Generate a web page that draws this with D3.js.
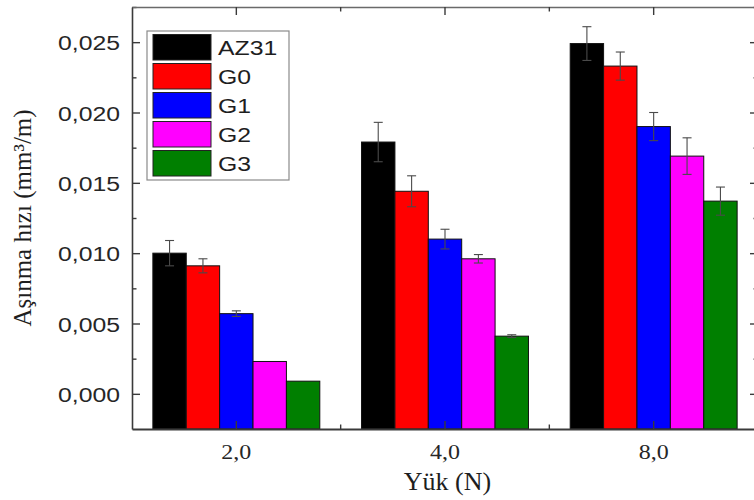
<!DOCTYPE html>
<html>
<head>
<meta charset="utf-8">
<script src="https://cdn.jsdelivr.net/npm/d3@7"></script>
<style>
  html, body { margin: 0; padding: 0; background: #fff; }
  svg { display: block; }
</style>
</head>
<body>
<script>
// Wear rate per load for each alloy
const categories = ["2,0", "4,0", "8,0"];
const series = ["AZ31", "G0", "G1", "G2", "G3"];
const colors = ["#000000", "#ff0000", "#0000ff", "#ff00ff", "#007f00"];

const valuesAZ31 = [0.0100, 0.0179, 0.0249];
const valuesG0   = [0.0091, 0.0144, 0.0233];
const valuesG1   = [0.0057, 0.0110, 0.0190];
const valuesG2   = [0.0023, 0.0096, 0.0169];
const valuesG3   = [0.0009, 0.0041, 0.0137];

const errorsAZ31 = [0.0009, 0.0014, 0.0012];
const errorsG0   = [0.0005, 0.0011, 0.0010];
const errorsG1   = [0.0002, 0.0007, 0.0010];
const errorsG2   = [0.0000, 0.0003, 0.0013];
const errorsG3   = [0.0000, 0.0001, 0.0010];

const yTicks = [0, 0.005, 0.010, 0.015, 0.020, 0.025];
const yTickLabels = ["0,000", "0,005", "0,010", "0,015", "0,020", "0,025"];
const yMinorTicks = [0.0025, 0.0075, 0.0125, 0.0175, 0.0225, 0.0275];

const xTitle = "Yük (N)";
const yTitle = "Aşınma hızı (mm³/m)";

const allValues = [valuesAZ31, valuesG0, valuesG1, valuesG2, valuesG3];
const allErrors = [errorsAZ31, errorsG0, errorsG1, errorsG2, errorsG3];

const rows = [];
series.forEach((s, si) => {
  categories.forEach((c, ci) => {
    rows.push({ series: s, cat: c, value: allValues[si][ci], err: allErrors[si][ci], color: colors[si] });
  });
});

const W = 754, H = 500;
const plot = { left: 132, right: 758, top: 7, bottom: 429 };
const sansFont = "'Liberation Sans', Arial, sans-serif";
const serifFont = "'Liberation Serif', 'Times New Roman', serif";
const sansStretch = 1.18;
const axisColor = "#3a3a3a";

const svg = d3.select("body").append("svg").attr("width", W).attr("height", H);

const x0 = d3.scaleBand().domain(categories).range([plot.left, plot.right])
  .paddingInner(0.2).paddingOuter(0.1);
const x1 = d3.scaleBand().domain(series).range([0, x0.bandwidth()]);
const y = d3.scaleLinear().domain([-0.0025, 0.0275]).range([plot.bottom, plot.top]);

// Bars rise from the bottom frame of the plot
const bars = svg.append("g");
bars.selectAll("rect").data(rows).join("rect")
  .attr("x", d => x0(d.cat) + x1(d.series))
  .attr("width", x1.bandwidth())
  .attr("y", d => y(d.value))
  .attr("height", d => plot.bottom - y(d.value))
  .attr("fill", d => d.color)
  .attr("stroke", "#111")
  .attr("stroke-width", 1);

// Error bars (± with caps)
const eb = svg.append("g").attr("stroke", "#4a4a4a").attr("stroke-width", 1.1).attr("fill", "none");
const ebRows = rows.filter(d => d.err > 0);
const capHalf = 4.5;
const cx = d => x0(d.cat) + x1(d.series) + x1.bandwidth() / 2;
eb.selectAll("line.v").data(ebRows).join("line").attr("class", "v")
  .attr("x1", cx).attr("x2", cx)
  .attr("y1", d => y(d.value - d.err)).attr("y2", d => y(d.value + d.err));
eb.selectAll("line.ct").data(ebRows).join("line").attr("class", "ct")
  .attr("x1", d => cx(d) - capHalf).attr("x2", d => cx(d) + capHalf)
  .attr("y1", d => y(d.value + d.err)).attr("y2", d => y(d.value + d.err));
eb.selectAll("line.cb").data(ebRows).join("line").attr("class", "cb")
  .attr("x1", d => cx(d) - capHalf).attr("x2", d => cx(d) + capHalf)
  .attr("y1", d => y(d.value - d.err)).attr("y2", d => y(d.value - d.err));

function styleAxis(g) {
  g.select(".domain").attr("stroke", axisColor).attr("stroke-width", 1.6);
  g.selectAll(".tick line").attr("stroke", axisColor).attr("stroke-width", 1.4);
}

// Left axis, ticks pointing inward
const yAxis = svg.append("g").attr("transform", `translate(${plot.left},0)`)
  .call(d3.axisLeft(y).tickValues(yTicks).tickSizeInner(-8).tickSizeOuter(0)
    .tickFormat((d, i) => yTickLabels[i]));
styleAxis(yAxis);
yAxis.selectAll(".tick text")
  .attr("x", null).attr("dy", "0.36em")
  .attr("transform", `translate(-12,0) scale(${sansStretch},1)`)
  .attr("font-family", sansFont).attr("font-size", 21).attr("fill", "#262626");

svg.append("g").attr("transform", `translate(${plot.left},0)`)
  .call(d3.axisLeft(y).tickValues(yMinorTicks).tickSizeInner(-4.5).tickSizeOuter(0).tickFormat(""))
  .call(g => { g.select(".domain").remove(); styleAxis(g); });

// Right frame
const rAxis = svg.append("g").attr("transform", `translate(${plot.right},0)`)
  .call(d3.axisRight(y).tickValues(yTicks).tickSizeInner(-8).tickSizeOuter(0).tickFormat(""));
styleAxis(rAxis);
svg.append("g").attr("transform", `translate(${plot.right},0)`)
  .call(d3.axisRight(y).tickValues(yMinorTicks).tickSizeInner(-4.5).tickSizeOuter(0).tickFormat(""))
  .call(g => { g.select(".domain").remove(); styleAxis(g); });

// Bottom axis with category labels
const xAxis = svg.append("g").attr("transform", `translate(0,${plot.bottom})`)
  .call(d3.axisBottom(x0).tickSizeInner(-8).tickSizeOuter(0));
styleAxis(xAxis);
xAxis.select(".domain").attr("stroke-width", 2);
xAxis.selectAll(".tick text")
  .attr("y", null).attr("dy", null)
  .attr("transform", "translate(0,30) scale(1.09,1)")
  .attr("font-family", serifFont).attr("font-size", 22).attr("fill", "#262626");

// Top frame
const tAxis = svg.append("g").attr("transform", `translate(0,${plot.top})`)
  .call(d3.axisTop(x0).tickSizeInner(-8).tickSizeOuter(0).tickFormat(""));
styleAxis(tAxis);
tAxis.select(".domain").attr("stroke", "#6a6a6a");

// Minor ticks between load groups
const mids = categories.slice(1).map((c, i) => (x0(categories[i]) + x0(c)) / 2 + x0.bandwidth() / 2);
const minorG = svg.append("g").attr("stroke", axisColor).attr("stroke-width", 1.4);
minorG.selectAll("line.b").data(mids).join("line").attr("class", "b")
  .attr("x1", d => d).attr("x2", d => d).attr("y1", plot.bottom).attr("y2", plot.bottom - 4.5);
minorG.selectAll("line.t").data(mids).join("line").attr("class", "t")
  .attr("x1", d => d).attr("x2", d => d).attr("y1", plot.top).attr("y2", plot.top + 4.5);

// Axis titles
svg.append("text")
  .attr("x", (plot.left + 757) / 2 + 3).attr("y", 490)
  .attr("text-anchor", "middle")
  .attr("font-family", serifFont).attr("font-size", 26).attr("fill", "#1e1e1e")
  .text(xTitle);

svg.append("text")
  .attr("transform", `translate(31,${(plot.top + plot.bottom) / 2}) rotate(-90)`)
  .attr("text-anchor", "middle")
  .attr("font-family", serifFont).attr("font-size", 25).attr("fill", "#1e1e1e")
  .text(yTitle);

// Legend
const lg = svg.append("g").attr("transform", "translate(147,31)");
lg.append("rect").attr("width", 142).attr("height", 149)
  .attr("fill", "#fff").attr("stroke", "#8a8a8a").attr("stroke-width", 1.2);
const rowStep = 29;
const item = lg.selectAll("g.item").data(series).join("g").attr("class", "item")
  .attr("transform", (d, i) => `translate(6,${3.5 + i * rowStep})`);
item.append("rect").attr("width", 58).attr("height", 25.5)
  .attr("fill", (d, i) => colors[i]).attr("stroke", "#222").attr("stroke-width", 1);
item.append("text")
  .attr("transform", `translate(65,20.5) scale(${sansStretch},1)`)
  .attr("font-family", sansFont).attr("font-size", 21).attr("fill", "#1e1e1e")
  .text(d => d);
</script>
</body>
</html>
